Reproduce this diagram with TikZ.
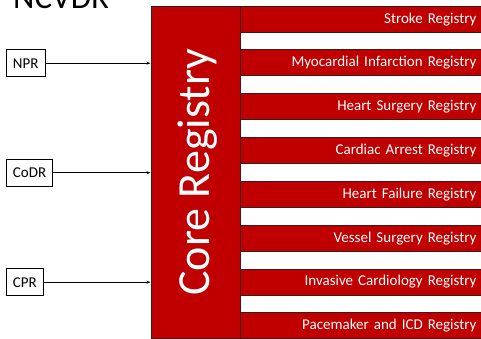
\documentclass[tikz,border=0pt]{standalone}
\usepackage{fontspec}
\setmainfont{Carlito}
\usetikzlibrary{arrows.meta,calc}
\definecolor{regred}{HTML}{C00000}
\definecolor{edge}{HTML}{3A1A1A}
\tikzset{
  srcbox/.style={draw=black, line width=0.8pt, fill=white, font=\fontsize{15}{17}\selectfont,
    minimum height=27pt, inner xsep=6.5pt, inner ysep=0pt, anchor=north west},
  regbar/.style={draw=edge, line width=0.9pt, fill=regred, text=white,
    font=\fontsize{15}{17}\selectfont, minimum height=26pt, text width=231pt,
    align=right, inner xsep=5pt, inner ysep=0pt, anchor=north west},
  corebox/.style={draw=edge, line width=0.9pt, fill=regred, minimum width=89pt,
    minimum height=332pt, inner sep=0pt, anchor=north west},
  feed/.style={-{Stealth[length=4pt,width=3pt]}, line width=0.7pt, black}
}
\begin{document}
\begin{tikzpicture}[x=1pt,y=-1pt]
\useasboundingbox (0,0) rectangle (481,339);
\node[anchor=base west, font=\fontsize{33}{36}\selectfont, inner sep=0pt] (title) at (13,9) {NCVDR};
\foreach \lab [count=\i from 0] in {Stroke Registry,Myocardial Infarction Registry,Heart Surgery Registry,Cardiac Arrest Registry,Heart Failure Registry,Vessel Surgery Registry,Invasive Cardiology Registry,Pacemaker and ICD Registry}{
  \node[regbar] (bar\i) at (240,{5.7+\i*43.8}) {\lab};
}
\node[corebox] (core) at (150.5,5.7) {};
\node[rotate=90, text=white, font=\fontsize{46}{50}\selectfont, inner sep=0pt] (coretext) at ($(core.center)+(2,0)$) {Core Registry};
\node[srcbox] (npr) at (6,49.3) {NPR};
\node[srcbox] (codr) at (6,158.8) {CoDR};
\node[srcbox] (cpr) at (6,268.3) {CPR};
\draw[feed] (npr.east) -- (npr.east -| core.west);
\draw[feed] (codr.east) -- (codr.east -| core.west);
\draw[feed] (cpr.east) -- (cpr.east -| core.west);
\end{tikzpicture}
\end{document}
